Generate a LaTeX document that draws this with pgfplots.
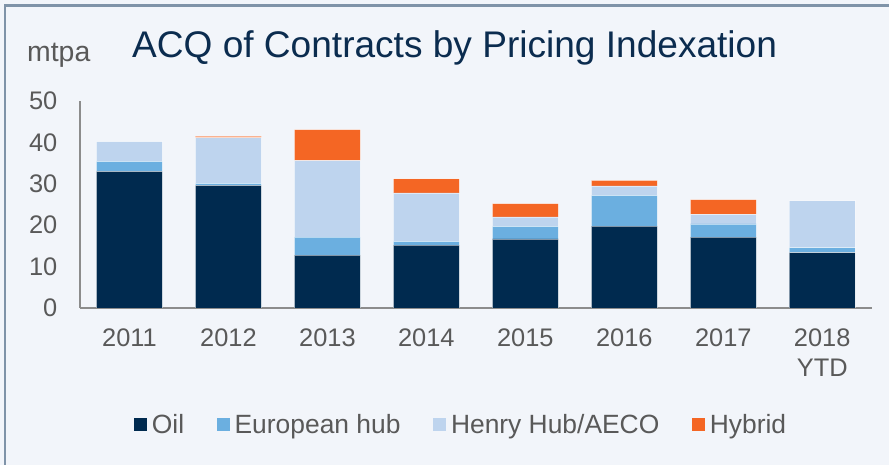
\documentclass[border=0pt]{standalone}
\usepackage{fontspec}
\setmainfont{Liberation Sans}
\usepackage{pgfplots}
\pgfplotsset{compat=1.18}
\definecolor{bgc}{HTML}{F2F5FA}
\definecolor{framec}{HTML}{7F93A8}
\definecolor{oilc}{HTML}{002A4F}
\definecolor{euc}{HTML}{6BAFE0}
\definecolor{hhc}{HTML}{BED4EE}
\definecolor{hybc}{HTML}{F46624}
\definecolor{txtc}{HTML}{595959}
\definecolor{titc}{HTML}{0B2C4F}
\definecolor{axc}{HTML}{8C8C8C}
\begin{document}
\begin{tikzpicture}[x=1bp,y=1bp]
\useasboundingbox (0,0) rectangle (889,465);
\fill[bgc] (0,0) rectangle (889,465);
\draw[framec, line width=2.2bp] (5,0) -- (5,459.5) -- (889,459.5);
\node[anchor=base west, inner sep=0, text=titc, font=\fontsize{37.2}{41}\selectfont] at (132,407.5) {ACQ of Contracts by Pricing Indexation};
\node[anchor=base west, inner sep=0, text=txtc, font=\fontsize{28.5}{32}\selectfont] at (27,403) {mtpa};
\begin{axis}[
  at={(80bp,157bp)}, anchor=south west,
  scale only axis,
  width=791.7bp, height=207bp,
  ybar stacked, bar width=66bp,
  xmin=-0.5, xmax=7.5, ymin=0, ymax=50,
  xtick={0,...,7},
  xticklabels={2011,2012,2013,2014,2015,2016,2017,{2018\\YTD}},
  ytick={0,10,...,50},
  axis x line=bottom, axis y line=left,
  axis line style={-, draw=axc, line width=1.6bp},
  tick style={draw=none},
  /pgf/number format/assume math mode=true,
  ticklabel style={text=txtc, font=\fontsize{25.5}{30}\selectfont},
  xticklabel style={yshift=-15bp, align=center},
  yticklabel style={xshift=-17bp},
  legend columns=4,
  legend style={at={(0.48,-0.5625)}, anchor=center, draw=none, fill=none,
    font=\fontsize{26.5}{30}\selectfont, text=txtc,
    nodes={inner sep=0pt},
    /tikz/every odd column/.append style={column sep=5bp},
    /tikz/every even column/.append style={column sep=32.5bp},
    legend cell align=left},
  legend image code/.code={\fill[#1, draw=none] (0bp,-6.5bp) rectangle (13bp,6.5bp);},
  every axis plot/.append style={draw=white, draw opacity=0.5, line width=0.7bp},
]
\addplot[fill=oilc] coordinates {(0,33.0) (1,29.6) (2,12.8) (3,15.2) (4,16.7) (5,19.8) (6,17.1) (7,13.4)};
\addplot[fill=euc] coordinates {(0,2.4) (1,0.5) (2,4.3) (3,0.9) (4,3.0) (5,7.4) (6,3.2) (7,1.2)};
\addplot[fill=hhc] coordinates {(0,4.8) (1,11.0) (2,18.5) (3,11.7) (4,2.3) (5,2.3) (6,2.3) (7,11.3)};
\addplot[fill=hybc] coordinates {(0,0) (1,0.4) (2,7.5) (3,3.4) (4,3.2) (5,1.3) (6,3.6) (7,0)};
\legend{Oil, European hub, Henry Hub/AECO, Hybrid}
\end{axis}
\end{tikzpicture}
\end{document}
